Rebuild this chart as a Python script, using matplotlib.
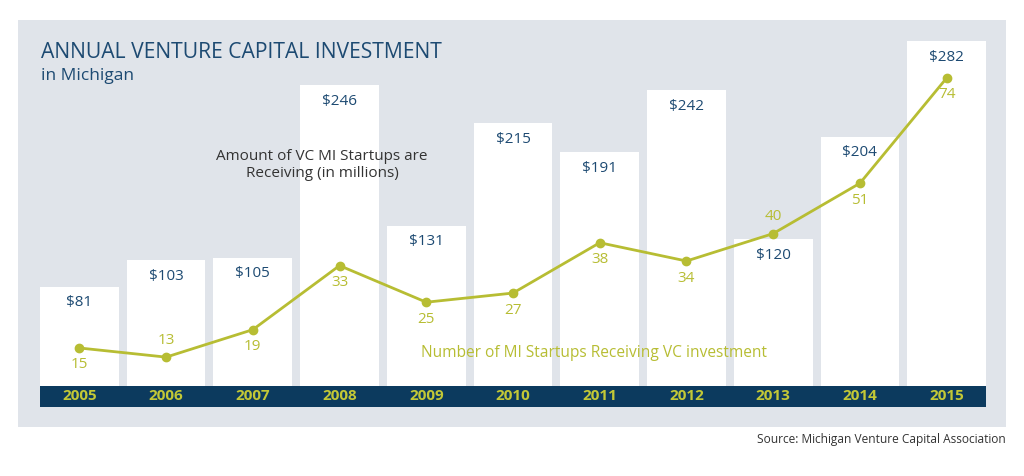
import matplotlib.pyplot as plt
from matplotlib.patches import Rectangle
import matplotlib.transforms as mtransforms

plt.rcParams['font.family'] = ['Open Sans', 'DejaVu Sans']

# ---------------- DATA ----------------
years = ['2005', '2006', '2007', '2008', '2009', '2010', '2011', '2012', '2013', '2014', '2015']
vc_amount = [81, 103, 105, 246, 131, 215, 191, 242, 120, 204, 282]
startups = [15, 13, 19, 33, 25, 27, 38, 34, 40, 51, 74]
label_above = [False, True, False, False, False, False, False, False, True, False, False]

NAVY = '#0c3a5e'
DARK_BLUE = '#1d4a72'
OLIVE = '#b7bd33'
YEAR_TXT = '#c3c836'
PANEL = '#e0e4ea'

W, H = 1024, 476
fig = plt.figure(figsize=(W / 100, H / 100), dpi=100)

# gray background panel
fig.patches.append(Rectangle((18 / W, 1 - 427 / H), (1006 - 18) / W, (427 - 20) / H,
                             transform=fig.transFigure, facecolor=PANEL, edgecolor='none', zorder=-10))

# bars axis: x 40..986 px, y bottom 386 px, top 20 px
ax = fig.add_axes([40 / W, 1 - 386 / H, 946 / W, 366 / H])
ax.set_zorder(1)
ax.patch.set_alpha(0)
bw = 0.907
x = list(range(len(years)))
ax.bar(x, vc_amount, width=bw, color='white', zorder=1)
ax.set_xlim(-bw / 2, len(years) - 1 + bw / 2)
ax.set_ylim(0, 299.3)
ax.axis('off')

for xi, v in zip(x, vc_amount):
    ax.annotate(f'${v}', (xi, v), xytext=(0, -16), textcoords='offset pixels',
                ha='center', va='center', fontsize=11, color=DARK_BLUE, zorder=5)

# navy year strip below axes
ax.add_patch(Rectangle((0, -21 / 366), 1, 21 / 366, transform=ax.transAxes,
                       facecolor=NAVY, edgecolor='none', clip_on=False, zorder=2))
trans = mtransforms.blended_transform_factory(ax.transData, ax.transAxes)
for xi, yr in zip(x, years):
    ax.text(xi, -10.5 / 366, yr, transform=trans, ha='center', va='center',
            fontsize=11, fontweight='bold', color=YEAR_TXT, zorder=3)

# startups line on twin axis
ax2 = ax.twinx()
ax2.set_zorder(2)
ax2.patch.set_alpha(0)
ax2.set_ylim(6.69, 86.67)
ax2.axis('off')
ax2.plot(x, startups, color=OLIVE, lw=2, marker='o', ms=6, zorder=4)
for xi, v, up in zip(x, startups, label_above):
    ax2.annotate(str(v), (xi, v), xytext=(0, 17 if up else -17), textcoords='offset pixels',
                 ha='center', va='center', fontsize=11, color=OLIVE, zorder=5)

# titles and annotations
fig.text(41 / W, 1 - 52 / H, 'ANNUAL VENTURE CAPITAL INVESTMENT', ha='left', va='center',
         fontsize=15.2, color=DARK_BLUE, zorder=5)
fig.text(41 / W, 1 - 76 / H, 'in Michigan', ha='left', va='center',
         fontsize=12.5, color=DARK_BLUE, zorder=5)
fig.text(322 / W, 1 - 165 / H, 'Amount of VC MI Startups are\nReceiving (in millions)',
         ha='center', va='center', fontsize=11, color='#333333', linespacing=1.1, zorder=5)
fig.text(594 / W, 1 - 353 / H, 'Number of MI Startups Receiving VC investment',
         ha='center', va='center', fontsize=11.2, color=OLIVE, zorder=5)
fig.text(1006 / W, 1 - 439 / H, 'Source: Michigan Venture Capital Association',
         ha='right', va='center', fontsize=8.6, color='#333333')

fig.savefig('out.png', dpi=100)
